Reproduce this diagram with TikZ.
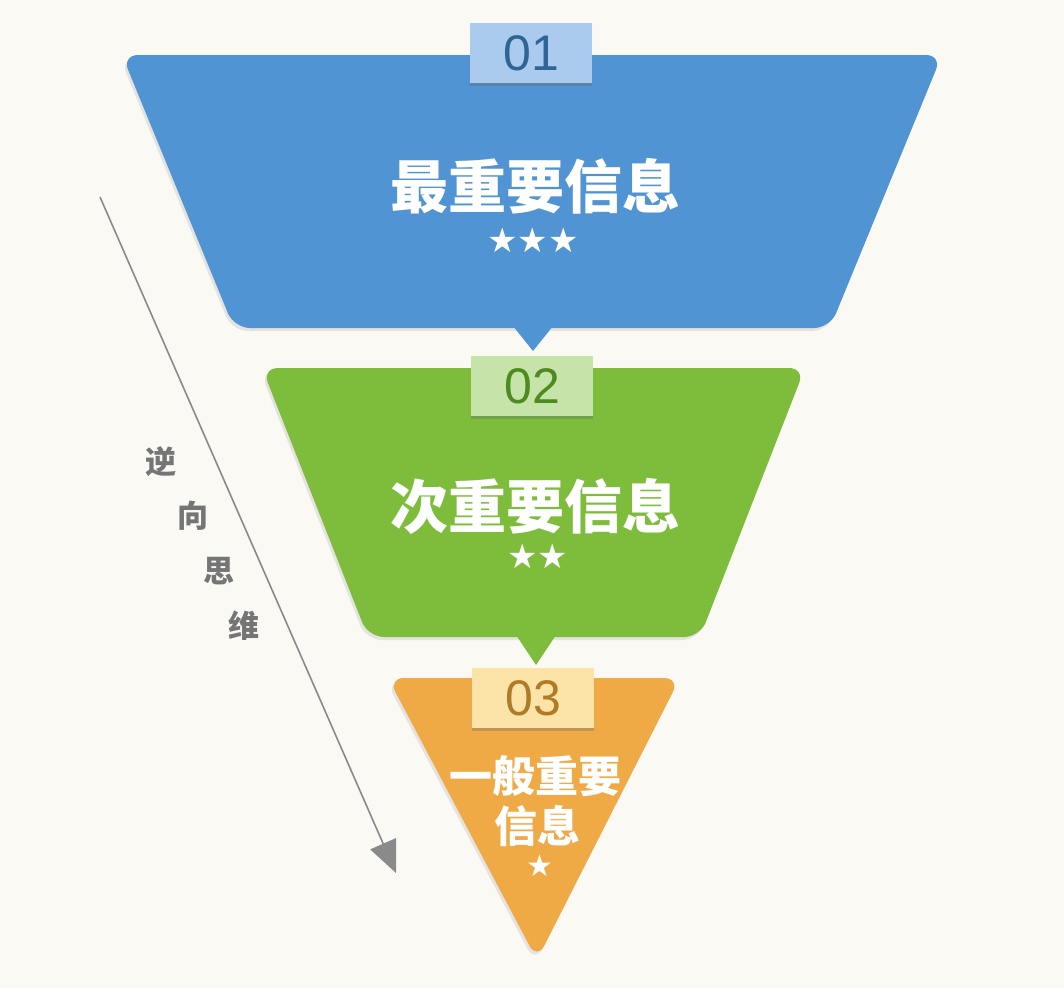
\documentclass[tikz,border=0pt]{standalone}
\usepackage{fontspec}
\setmainfont{Liberation Sans}
\newfontfamily\cjk{Noto Sans CJK SC}
\newfontfamily\symb{DejaVu Sans}
\usetikzlibrary{arrows.meta,shadows,calc}

\definecolor{paper}{HTML}{FBF9F4}
\definecolor{tierblue}{HTML}{5094D4}
\definecolor{tierbluelt}{HTML}{AACBEE}
\definecolor{tierbluedk}{HTML}{2F6496}
\definecolor{tiergreen}{HTML}{7EBC3C}
\definecolor{tiergreenlt}{HTML}{C6E3A9}
\definecolor{tiergreendk}{HTML}{4D8A1F}
\definecolor{tierorange}{HTML}{EFAA46}
\definecolor{tierorangelt}{HTML}{FCE3A8}
\definecolor{tierorangedk}{HTML}{B07A26}
\definecolor{arrowgray}{HTML}{8A8A8A}

\begin{document}
\begin{tikzpicture}[x=1pt, y=-1pt,
    tier/.style={rounded corners=16pt, drop shadow={opacity=0.18, shadow xshift=-2pt, shadow yshift=-3pt}},
    numbox/.style={minimum width=122pt, minimum height=60pt, inner sep=0pt,
      font=\fontsize{50}{50}\selectfont},
    title/.style={text=white, font=\cjk\bfseries\fontsize{58}{62}\selectfont},
    stars/.style={text=white, font=\symb\fontsize{34}{34}\selectfont},
    sidechar/.style={text=arrowgray!85!black, font=\cjk\bfseries\fontsize{31}{31}\selectfont}]
  % Paper
  \fill[paper] (0,0) rectangle (1064,988);
  % Reading direction arrow
  \coordinate (arrowtop) at (100,197);
  \coordinate (arrowtip) at (396,873);
  \draw[arrowgray, line width=1.6pt, -{Triangle[length=32pt, width=28pt]}] (arrowtop) -- (arrowtip);
  \node[sidechar] (ni) at (161,462) {逆};
  \node[sidechar] (xiang) at (193,516) {向};
  \node[sidechar] (si) at (219,571) {思};
  \node[sidechar] (wei) at (244,626) {维};
  % Tier 1
  \fill[tierblue, tier] (122,55) -- (942,55) -- (830,328) -- (234,328) -- cycle;
  \fill[tierblue] (513,326) -- (553,326) -- (533,351) -- cycle;
  \node[numbox, fill=tierbluelt, text=tierbluedk,
    drop shadow={opacity=1, fill=tierbluedk!80, shadow xshift=0pt, shadow yshift=-3pt}] (n1) at (531,53) {01};
  \node[title] (t1) at (535,186) {最重要信息};
  \node[stars] (s1) at (533,240) {★★★};
  % Tier 2
  \fill[tiergreen, tier] (262,368) -- (805,368) -- (700,637) -- (368,637) -- cycle;
  \fill[tiergreen] (516,635) -- (556,635) -- (536,665) -- cycle;
  \node[numbox, fill=tiergreenlt, text=tiergreendk,
    drop shadow={opacity=1, fill=tiergreendk!80, shadow xshift=0pt, shadow yshift=-3pt}] (n2) at (532,386) {02};
  \node[title] (t2) at (535,506) {次重要信息};
  \node[stars] (s2) at (538,556) {★★};
  % Tier 3
  \fill[tierorange, tier] (388,678) -- (680,678) -- (537,960) -- cycle;
  \node[numbox, fill=tierorangelt, text=tierorangedk,
    drop shadow={opacity=1, fill=tierorangedk!80, shadow xshift=0pt, shadow yshift=-3pt}] (n3) at (533,698) {03};
  \node[title, font=\cjk\bfseries\fontsize{43}{46}\selectfont] (t3a) at (535,776) {一般重要};
  \node[title, font=\cjk\bfseries\fontsize{43}{46}\selectfont] (t3b) at (537,826) {信息};
  \node[stars, font=\symb\fontsize{30}{30}\selectfont] (s3) at (540,866) {★};
\end{tikzpicture}
\end{document}
